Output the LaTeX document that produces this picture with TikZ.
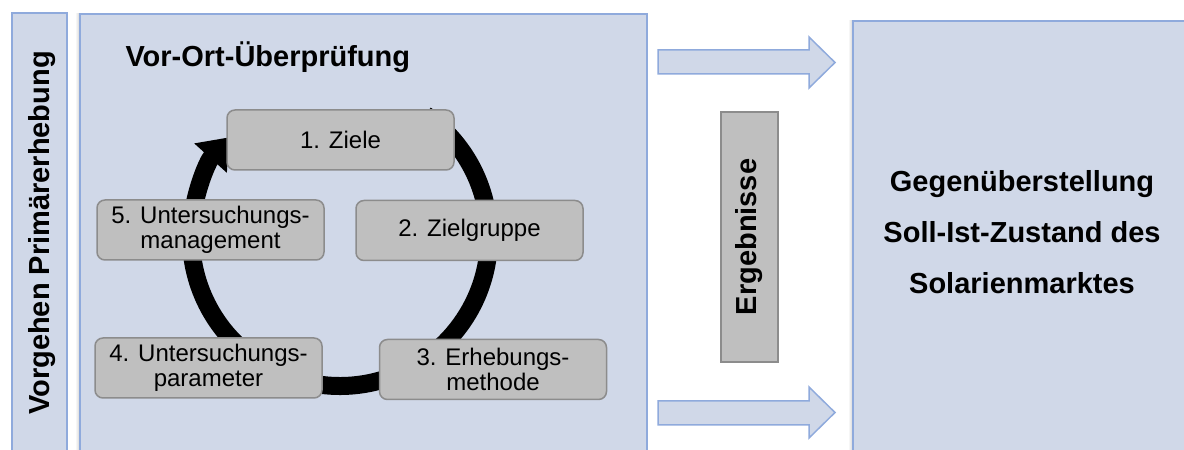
\documentclass[tikz,border=0pt]{standalone}
\usepackage{fontspec}
\setmainfont{Liberation Sans}
\usetikzlibrary{arrows.meta}
\definecolor{panelblue}{HTML}{D0D8E8}
\definecolor{panelline}{HTML}{8FAADC}
\definecolor{stepgray}{HTML}{BFBFBF}
\definecolor{stepline}{HTML}{8C8C8C}
\tikzset{
    panel/.style={fill=panelblue, draw=panelline, line width=1.5pt},
    stepbox/.style={rectangle, rounded corners=8pt, fill=stepgray, draw=stepline, line width=1.5pt, minimum width=227pt, minimum height=60pt, align=center, inner sep=0pt, font=\fontsize{24}{25}\selectfont},
    resultbox/.style={rectangle, fill=stepgray, draw=stepline, line width=1.5pt, minimum width=250pt, minimum height=57pt, inner sep=0pt},
    bigtext/.style={font=\fontsize{29}{35}\selectfont\bfseries},
    blockarrow/.style={fill=panelblue, draw=panelline, line width=1.5pt}
}

\begin{document}
\begin{tikzpicture}[x=1pt, y=1pt]
    \useasboundingbox (0,0) rectangle (1184,450);
    \clip (0,0) rectangle (1184,450);
    \fill [white] (0,0) rectangle (1184,450);
    % left strip
    \draw [panel] (12,-10) rectangle (67,437);
    \node (vorgehen) at (42,217) [bigtext, rotate=90] {Vorgehen Primärerhebung};
    % main panel
    \shade [left color=white, right color=black!18] (75,-10) rectangle (80,436);
    \draw [panel] (80,-10) rectangle (647,436);
    \node (title) at (122,383) [bigtext, anchor=base west] {Vor-Ort-Überprüfung};
    % cycle
    \coordinate (hub) at (340,213);
    \draw [line width=18pt, -{Triangle[width=42pt,length=28pt]}] (hub) ++(55:149) arc [start angle=55, end angle=-222, radius=149];
    \node (ziele) at (340.5,310) [stepbox] {1. Ziele};
    \node (zielgruppe) at (469.5,219.5) [stepbox] {2. Zielgruppe};
    \node (methode) at (493,80.5) [stepbox] {3. Erhebungs-\\methode};
    \node (parameter) at (208.5,82) [stepbox] {4. Untersuchungs-\\parameter};
    \node (management) at (210.5,220) [stepbox] {5. Untersuchungs-\\management};
    % results
    \node (ergebnisse) at (749.5,213) [resultbox, rotate=90, bigtext] {Ergebnisse};
    \draw [blockarrow] (658,376) -- (809,376) -- (809,362) -- (835,387.5) -- (809,413) -- (809,400) -- (658,400) -- cycle;
    \draw [blockarrow] (658,25) -- (809,25) -- (809,12) -- (835,37.5) -- (809,63) -- (809,49) -- (658,49) -- cycle;
    % right panel
    \shade [left color=white, right color=black!18] (848,-10) rectangle (853,429);
    \draw [panel] (853,-10) rectangle (1195,429);
    \node (gegen) at (1022,218) [align=center, font=\fontsize{29}{51}\selectfont\bfseries] {Gegenüberstellung\\Soll-Ist-Zustand des\\Solarienmarktes};
\end{tikzpicture}
\end{document}
